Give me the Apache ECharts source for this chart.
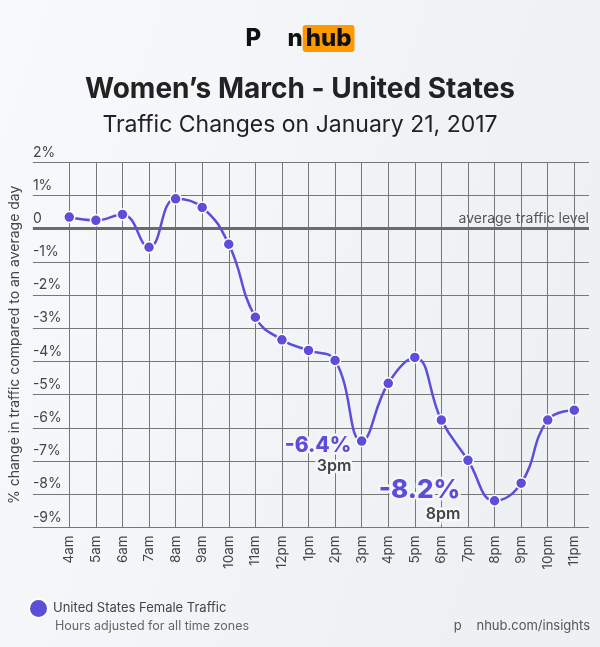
<!DOCTYPE html>
<html><head><meta charset="utf-8">
<script src="https://cdn.jsdelivr.net/npm/echarts@6/dist/echarts.min.js"></script>
<style>html,body{margin:0;padding:0;}#c{width:600px;height:647px;}</style>
</head><body><div id="c"></div>
<script>
const categories = ['4am','5am','6am','7am','8am','9am','10am','11am','12pm','1pm','2pm','3pm','4pm','5pm','6pm','7pm','8pm','9pm','10pm','11pm'];
const traffic = [0.35, 0.25, 0.43, -0.56, 0.9, 0.64, -0.47, -2.67, -3.35, -3.67, -3.97, -6.4, -4.66, -3.88, -5.77, -6.98, -8.2, -7.67, -5.77, -5.47];
const yTicks = [-9,-8,-7,-6,-5,-4,-3,-2,-1,0,1,2];
const callouts = [{index: 11, value: '-6.4%', hour: '3pm'}, {index: 16, value: '-8.2%', hour: '8pm'}];

const FONT = 'Inter, "Open Sans", sans-serif';
const PURPLE = '#5c4ed8';
const BG = '#f4f6f8';

const seriesData = traffic.map((v, i) => {
  const c = callouts.find(o => o.index === i);
  if (!c) return v;
  const big = c.hour === '8pm';
  return {
    value: v,
    label: {
      show: true,
      position: 'left',
      distance: big ? 28 : 4,
      offset: big ? [0, 0] : [0, 14],
      align: 'right',
      formatter: '{v|' + c.value + '}\n{t|' + c.hour + '}',
      rich: {
        v: {fontFamily: FONT, fontWeight: 800, fontSize: big ? 26 : 21, color: PURPLE, align: 'right', textBorderColor: BG, textBorderWidth: 5, lineHeight: big ? 26 : 22},
        t: {fontFamily: FONT, fontWeight: 600, fontSize: 16, color: '#444', align: 'right', textBorderColor: BG, textBorderWidth: 5, lineHeight: big ? 22 : 18}
      }
    }
  };
});

const chart = echarts.init(document.getElementById('c'));
chart.setOption({
  backgroundColor: {type: 'linear', x: 0, y: 0, x2: 1, y2: 0.3, colorStops: [{offset: 0, color: '#f8f9fb'}, {offset: 1, color: '#edf1f4'}]},
  animation: false,
  title: [
    {text: '{a|P     n}{b|hub}', left: 'center', top: 20, textStyle: {rich: {
      a: {fontFamily: FONT, fontWeight: 800, fontSize: 24, color: '#111'},
      b: {fontFamily: FONT, fontWeight: 800, fontSize: 24, color: '#111', backgroundColor: '#ff9900', borderRadius: 3, padding: [2, 3, 1, 3]}
    }}},
    {text: 'Women’s March - United States', left: 'center', top: 71, textStyle: {fontFamily: FONT, fontWeight: 700, fontSize: 28, color: '#222'}},
    {text: 'Traffic Changes on January 21, 2017', left: 'center', top: 109, textStyle: {fontFamily: FONT, fontWeight: 400, fontSize: 23, color: '#222'}},
    {text: 'Hours adjusted for all time zones', left: 50, top: 615, textStyle: {fontFamily: FONT, fontWeight: 400, fontSize: 12.5, color: '#666'}},
    {text: 'p    nhub.com/insights', right: 5, top: 615, textStyle: {fontFamily: FONT, fontWeight: 400, fontSize: 13, color: '#555'}}
  ],
  legend: {
    data: ['United States Female Traffic'], left: 23, top: 593, icon: 'circle', itemWidth: 19, itemHeight: 19, itemGap: 8,
    textStyle: {fontFamily: FONT, fontSize: 13, color: '#444'}
  },
  grid: [
    {left: 29, right: 11, top: 162.3, bottom: 119.7},
    {left: 69.3, right: 25.7, top: 162.3, bottom: 119.7}
  ],
  xAxis: [
    {gridIndex: 0, type: 'value', min: 0, max: 1, show: false},
    {gridIndex: 1, type: 'category', data: categories, boundaryGap: false,
     axisLine: {show: false}, axisTick: {show: false},
     axisLabel: {rotate: 90, margin: 8, fontFamily: FONT, fontSize: 13.5, color: '#444'},
     splitLine: {show: true, lineStyle: {color: '#777', width: 1}}}
  ],
  yAxis: [
    {gridIndex: 0, type: 'value', min: yTicks[0], max: yTicks[yTicks.length - 1], interval: 1,
     name: '% change in traffic compared to an average day', nameLocation: 'middle', nameGap: 10, nameRotate: 90,
     nameTextStyle: {fontFamily: FONT, fontSize: 14, color: '#444'},
     axisLine: {show: false}, axisTick: {show: false},
     axisLabel: {inside: true, verticalAlign: 'bottom', margin: 0, padding: [0, 0, 3, 0], fontFamily: FONT, fontSize: 14, color: '#444',
       formatter: v => v === 0 ? '0' : v + '%'},
     splitLine: {show: true, lineStyle: {color: '#777', width: 1}}},
    {gridIndex: 1, type: 'value', min: yTicks[0], max: yTicks[yTicks.length - 1], interval: 1, show: false, splitLine: {show: false}}
  ],
  series: [
    {type: 'line', xAxisIndex: 0, yAxisIndex: 0, data: [], silent: true,
     markLine: {silent: true, symbol: 'none', z: 3,
       lineStyle: {color: '#6b6b6b', width: 3, type: 'solid'},
       label: {show: true, position: 'insideEndTop', distance: [0, 3], formatter: 'average traffic level', fontFamily: FONT, fontSize: 14, color: '#555'},
       data: [{yAxis: 0}]}},
    {name: 'United States Female Traffic', type: 'line', xAxisIndex: 1, yAxisIndex: 1, data: seriesData, z: 5,
     smooth: 0.45, symbol: 'circle', symbolSize: 11,
     lineStyle: {color: PURPLE, width: 2.5},
     itemStyle: {color: PURPLE, borderColor: '#fff', borderWidth: 1.5}}
  ]
});
</script></body></html>
